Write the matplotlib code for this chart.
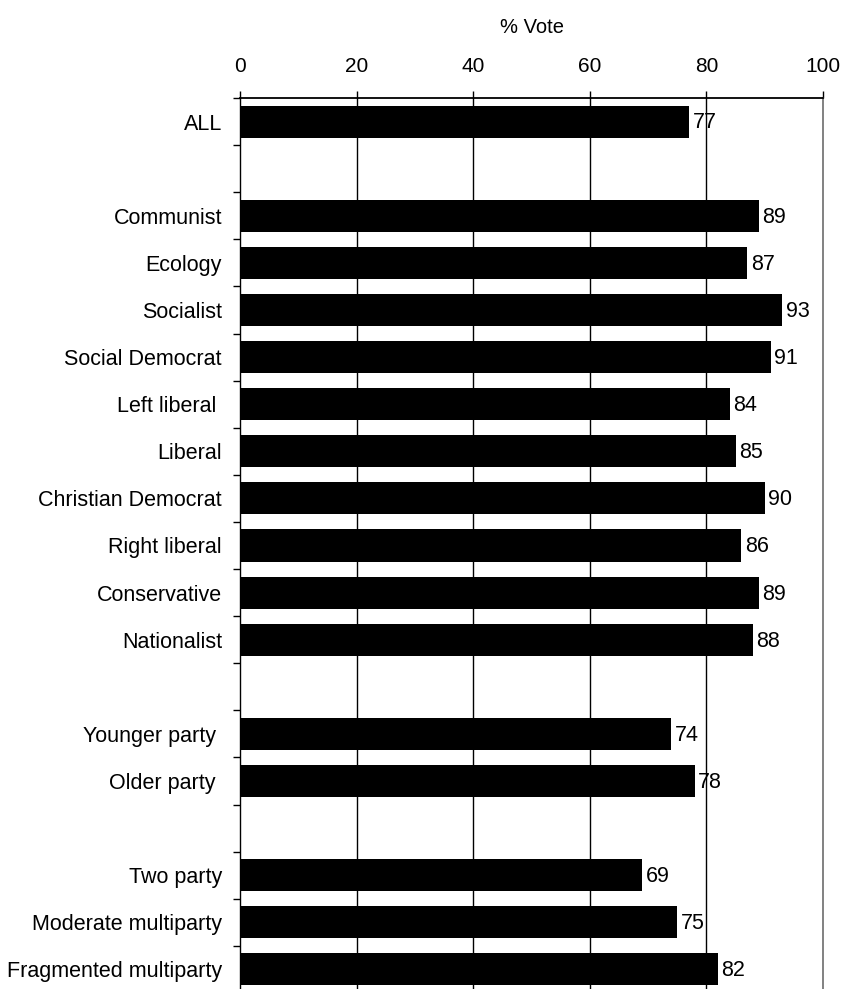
import matplotlib.pyplot as plt
import numpy as np

plt.rcParams['font.family'] = ['Liberation Sans', 'DejaVu Sans']

categories = ["ALL", "", "Communist", "Ecology", "Socialist", "Social Democrat",
              "Left liberal ", "Liberal", "Christian Democrat", "Right liberal",
              "Conservative", "Nationalist", "", "Younger party ", "Older party ", "",
              "Two party", "Moderate multiparty", "Fragmented multiparty"]
votes = [77, None, 89, 87, 93, 91, 84, 85, 90, 86, 89, 88, None, 74, 78, None, 69, 75, 82]
xticks = [0, 20, 40, 60, 80, 100]

fs = 15.5

fig = plt.figure(figsize=(8.44, 9.89), dpi=100)
ax = fig.add_axes([240 / 844, -4 / 989, 583 / 844, 895 / 989])

n = len(categories)
pos = np.arange(n)
vals = [v if v is not None else 0 for v in votes]
ax.barh(pos, vals, height=0.68, color='black', zorder=3)
for p, v in zip(pos, votes):
    if v is not None:
        ax.text(v + 0.6, p + 0.03, str(v), va='center', ha='left', fontsize=fs, zorder=4)

ax.set_ylim(n - 0.5, -0.5)
ax.set_xlim(0, 100)

ax.xaxis.tick_top()
ax.xaxis.set_label_position('top')
ax.set_xticks(xticks)
ax.set_xticklabels([str(t) for t in xticks], fontsize=15)
ax.tick_params(axis='x', direction='out', length=5, width=1, pad=11)
ax.set_xlabel('% Vote', fontsize=fs - 1, labelpad=17)

ax.set_yticks(pos)
ax.set_yticklabels(categories, fontsize=fs)
ax.tick_params(axis='y', which='major', length=0, pad=13)
ax.set_yticks(np.arange(n + 1) - 0.5, minor=True)
ax.tick_params(axis='y', which='minor', direction='out', length=5, width=1)

for g in [20, 40, 60, 80]:
    ax.axvline(g, color='black', linewidth=1, zorder=1)

ax.spines['top'].set_linewidth(1.3)
ax.spines['left'].set_linewidth(1)
ax.spines['right'].set_color('#777777')
ax.spines['right'].set_linewidth(1.3)
ax.spines['bottom'].set_visible(False)

fig.savefig('out.png', dpi=100)
